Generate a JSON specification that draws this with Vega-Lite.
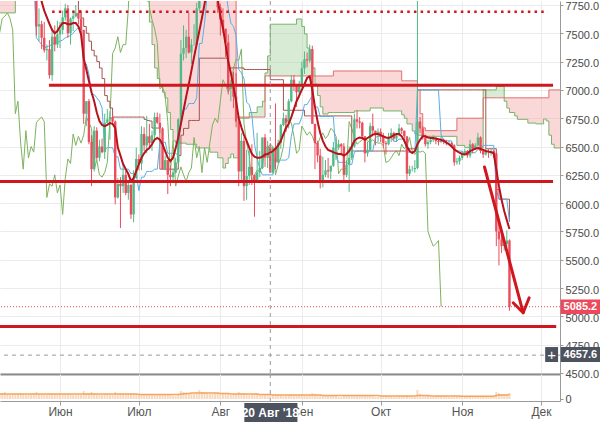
{
"$schema":"https://vega.github.io/schema/vega-lite/v6.json",
"padding":0,
"background":"white",
"spacing":0,
"bounds":"flush",
"config":{"view":{"stroke":null},"axis":{"labelFont":"Liberation Sans","labelOverlap":false},"text":{"font":"Liberation Sans"},"scale":{"continuousPadding":0}},
"datasets":{
"main":[
{"d":"2018-05-09","o":9190,"h":9350,"l":8980,"c":9300,"ma":9100,"tk":8700,"kj":8300,"ch":7500,"v":6,"vm":5},
{"d":"2018-05-10","o":9300,"h":9380,"l":9000,"c":9030,"ma":9050,"tk":8700,"kj":8300,"ch":7630,"v":6,"vm":5},
{"d":"2018-05-11","o":9030,"h":9030,"l":8380,"c":8420,"ma":8950,"tk":8700,"kj":8300,"ch":7650,"v":7,"vm":5},
{"d":"2018-05-12","o":8420,"h":8670,"l":8220,"c":8480,"ma":8850,"tk":8650,"kj":8300,"ch":7680,"v":5,"vm":5},
{"d":"2018-05-13","o":8480,"h":8750,"l":8400,"c":8700,"ma":8800,"tk":8600,"kj":8300,"ch":7630,"v":4,"vm":5},
{"d":"2018-05-14","o":8700,"h":8860,"l":8330,"c":8680,"ma":8750,"tk":8600,"kj":8300,"ch":7530,"v":5,"vm":5},
{"d":"2018-05-15","o":8680,"h":8800,"l":8440,"c":8480,"ma":8700,"tk":8600,"kj":8300,"ch":6790,"v":5,"vm":5},
{"d":"2018-05-16","o":8480,"h":8500,"l":8140,"c":8340,"ma":8600,"tk":8600,"kj":8300,"ch":6900,"v":5,"vm":5},
{"d":"2018-05-17","o":8340,"h":8470,"l":8030,"c":8060,"ma":8500,"tk":8550,"kj":8300,"ch":6540,"v":6,"vm":5},
{"d":"2018-05-18","o":8060,"h":8250,"l":7950,"c":8240,"ma":8450,"tk":8500,"kj":8300,"ch":6300,"v":5,"vm":5},
{"d":"2018-05-19","o":8240,"h":8380,"l":8150,"c":8250,"ma":8400,"tk":8400,"kj":8300,"ch":6640,"v":4,"vm":5},
{"d":"2018-05-20","o":8250,"h":8580,"l":8200,"c":8520,"ma":8400,"tk":8300,"kj":8300,"ch":6400,"v":4,"vm":5},
{"d":"2018-05-21","o":8520,"h":8560,"l":8330,"c":8400,"ma":8350,"tk":8200,"kj":8300,"ch":6500,"v":5,"vm":5},
{"d":"2018-05-22","o":8400,"h":8420,"l":7970,"c":8000,"ma":8200,"tk":8000,"kj":8300,"ch":6450,"v":6,"vm":5},
{"d":"2018-05-23","o":8000,"h":8030,"l":7480,"c":7560,"ma":8050,"tk":7460,"kj":8300,"ch":6710,"v":7,"vm":5},
{"d":"2018-05-24","o":7560,"h":7720,"l":7430,"c":7580,"ma":7900,"tk":7430,"kj":8300,"ch":6740,"v":5,"vm":5},
{"d":"2018-05-25","o":7580,"h":7610,"l":7360,"c":7460,"ma":7780,"tk":7400,"kj":8300,"ch":6760,"v":5,"vm":5},
{"d":"2018-05-26","o":7460,"h":7600,"l":7330,"c":7350,"ma":7700,"tk":7370,"kj":8300,"ch":6720,"v":4,"vm":5},
{"d":"2018-05-27","o":7350,"h":7400,"l":7260,"c":7360,"ma":7640,"tk":7380,"kj":8300,"ch":6050,"v":4,"vm":5},
{"d":"2018-05-28","o":7360,"h":7440,"l":7100,"c":7130,"ma":7582,"tk":7390,"kj":8300,"ch":6170,"v":6,"vm":5},
{"d":"2018-05-29","o":7130,"h":7530,"l":7080,"c":7470,"ma":7530,"tk":7400,"kj":8300,"ch":6150,"v":6,"vm":5},
{"d":"2018-05-30","o":7470,"h":7570,"l":7340,"c":7400,"ma":7500,"tk":7415,"kj":8300,"ch":6250,"v":5,"vm":5},
{"d":"2018-05-31","o":7400,"h":7610,"l":7370,"c":7490,"ma":7520,"tk":7420,"kj":8300,"ch":6090,"v":5,"vm":5},
{"d":"2018-06-01","o":7490,"h":7600,"l":7370,"c":7530,"ma":7560,"tk":7430,"kj":8300,"ch":6160,"v":5,"vm":5},
{"d":"2018-06-02","o":7530,"h":7700,"l":7490,"c":7640,"ma":7590,"tk":7440,"kj":8300,"ch":5900,"v":5,"vm":5},
{"d":"2018-06-03","o":7640,"h":7760,"l":7610,"c":7720,"ma":7590,"tk":7460,"kj":8300,"ch":6220,"v":5,"vm":5},
{"d":"2018-06-04","o":7720,"h":7750,"l":7460,"c":7500,"ma":7580,"tk":7470,"kj":8300,"ch":6390,"v":5,"vm":5},
{"d":"2018-06-05","o":7500,"h":7640,"l":7400,"c":7630,"ma":7580,"tk":7480,"kj":8300,"ch":6350,"v":5,"vm":5},
{"d":"2018-06-06","o":7630,"h":7700,"l":7520,"c":7650,"ma":7590,"tk":7500,"kj":8300,"ch":6610,"v":4,"vm":5},
{"d":"2018-06-07","o":7650,"h":7750,"l":7640,"c":7680,"ma":7590,"tk":7530,"kj":7800,"ch":6510,"v":4,"vm":5},
{"d":"2018-06-08","o":7680,"h":7700,"l":7580,"c":7630,"ma":7560,"tk":7550,"kj":7700,"ch":6590,"v":4,"vm":5},
{"d":"2018-06-09","o":7630,"h":7680,"l":7490,"c":7530,"ma":7490,"tk":7550,"kj":7635,"ch":6530,"v":4,"vm":5},
{"d":"2018-06-10","o":7530,"h":7530,"l":6700,"c":6790,"ma":7280,"tk":7230,"kj":7560,"ch":6600,"v":8,"vm":5},
{"d":"2018-06-11","o":6790,"h":6900,"l":6680,"c":6900,"ma":7180,"tk":7230,"kj":7500,"ch":6760,"v":6,"vm":5},
{"d":"2018-06-12","o":6900,"h":6920,"l":6520,"c":6540,"ma":7079,"tk":7140,"kj":7430,"ch":6710,"v":6,"vm":5},
{"d":"2018-06-13","o":6540,"h":6600,"l":6150,"c":6300,"ma":6980,"tk":6960,"kj":7350,"ch":6660,"v":7,"vm":5},
{"d":"2018-06-14","o":6300,"h":6680,"l":6280,"c":6640,"ma":6900,"tk":6960,"kj":7300,"ch":6300,"v":6,"vm":5},
{"d":"2018-06-15","o":6640,"h":6670,"l":6380,"c":6400,"ma":6800,"tk":6930,"kj":7250,"ch":6380,"v":5,"vm":5},
{"d":"2018-06-16","o":6400,"h":6560,"l":6370,"c":6500,"ma":6725,"tk":6900,"kj":7193,"ch":6250,"v":4,"vm":5},
{"d":"2018-06-17","o":6500,"h":6570,"l":6440,"c":6450,"ma":6690,"tk":6840,"kj":7100,"ch":6230,"v":4,"vm":5},
{"d":"2018-06-18","o":6450,"h":6790,"l":6390,"c":6710,"ma":6680,"tk":6470,"kj":6950,"ch":6270,"v":5,"vm":5},
{"d":"2018-06-19","o":6710,"h":6830,"l":6690,"c":6740,"ma":6690,"tk":6490,"kj":6900,"ch":6360,"v":5,"vm":5},
{"d":"2018-06-20","o":6740,"h":6810,"l":6560,"c":6760,"ma":6707,"tk":6490,"kj":6840,"ch":6740,"v":4,"vm":5},
{"d":"2018-06-21","o":6760,"h":6790,"l":6690,"c":6720,"ma":6700,"tk":6490,"kj":6760,"ch":7320,"v":4,"vm":5},
{"d":"2018-06-22","o":6720,"h":6730,"l":5990,"c":6050,"ma":6665,"tk":6410,"kj":6760,"ch":7370,"v":7,"vm":5},
{"d":"2018-06-23","o":6050,"h":6220,"l":6040,"c":6170,"ma":6490,"tk":6410,"kj":6760,"ch":7470,"v":5,"vm":5},
{"d":"2018-06-24","o":6170,"h":6230,"l":5780,"c":6150,"ma":6420,"tk":6300,"kj":6760,"ch":7330,"v":6,"vm":5},
{"d":"2018-06-25","o":6150,"h":6340,"l":6090,"c":6250,"ma":6345,"tk":6300,"kj":6760,"ch":7400,"v":5,"vm":5},
{"d":"2018-06-26","o":6250,"h":6290,"l":6070,"c":6090,"ma":6300,"tk":6300,"kj":6760,"ch":7400,"v":5,"vm":5},
{"d":"2018-06-27","o":6090,"h":6190,"l":6030,"c":6160,"ma":6257,"tk":6300,"kj":6760,"ch":7720,"v":5,"vm":5},
{"d":"2018-06-28","o":6160,"h":6170,"l":5860,"c":5900,"ma":6195,"tk":6260,"kj":6760,"ch":8400,"v":6,"vm":5},
{"d":"2018-06-29","o":5900,"h":6290,"l":5830,"c":6220,"ma":6220,"tk":6260,"kj":6760,"ch":8170,"v":6,"vm":5},
{"d":"2018-06-30","o":6220,"h":6490,"l":6220,"c":6390,"ma":6283,"tk":6260,"kj":6760,"ch":7940,"v":5,"vm":5},
{"d":"2018-07-01","o":6390,"h":6430,"l":6290,"c":6350,"ma":6345,"tk":6110,"kj":6760,"ch":8190,"v":4,"vm":4.5},
{"d":"2018-07-02","o":6350,"h":6680,"l":6290,"c":6610,"ma":6400,"tk":6230,"kj":6760,"ch":8230,"v":5,"vm":4.5},
{"d":"2018-07-03","o":6610,"h":6670,"l":6460,"c":6510,"ma":6440,"tk":6230,"kj":6740,"ch":8220,"v":5,"vm":4.5},
{"d":"2018-07-04","o":6510,"h":6770,"l":6440,"c":6590,"ma":6470,"tk":6280,"kj":6730,"ch":8180,"v":5,"vm":4.5},
{"d":"2018-07-05","o":6590,"h":6700,"l":6480,"c":6530,"ma":6487,"tk":6280,"kj":6725,"ch":7730,"v":4,"vm":4.5},
{"d":"2018-07-06","o":6530,"h":6640,"l":6460,"c":6600,"ma":6520,"tk":6280,"kj":6663,"ch":7620,"v":4,"vm":4.5},
{"d":"2018-07-07","o":6600,"h":6800,"l":6550,"c":6760,"ma":6560,"tk":6300,"kj":6663,"ch":7540,"v":4,"vm":4.5},
{"d":"2018-07-08","o":6760,"h":6800,"l":6700,"c":6710,"ma":6575,"tk":6300,"kj":6663,"ch":7420,"v":4,"vm":4.5},
{"d":"2018-07-09","o":6710,"h":6790,"l":6620,"c":6660,"ma":6560,"tk":6530,"kj":6300,"ch":7010,"v":4,"vm":4.5},
{"d":"2018-07-10","o":6660,"h":6670,"l":6300,"c":6300,"ma":6520,"tk":6530,"kj":6300,"ch":7030,"v":5,"vm":4.5},
{"d":"2018-07-11","o":6300,"h":6420,"l":6290,"c":6380,"ma":6460,"tk":6540,"kj":6300,"ch":6940,"v":4,"vm":4.5},
{"d":"2018-07-12","o":6380,"h":6380,"l":6080,"c":6250,"ma":6400,"tk":6440,"kj":6300,"ch":6720,"v":5,"vm":4.5},
{"d":"2018-07-13","o":6250,"h":6330,"l":6150,"c":6230,"ma":6370,"tk":6440,"kj":6300,"ch":6280,"v":4,"vm":4.5},
{"d":"2018-07-14","o":6230,"h":6300,"l":6200,"c":6270,"ma":6400,"tk":6440,"kj":6300,"ch":6550,"v":3,"vm":4.5},
{"d":"2018-07-15","o":6270,"h":6400,"l":6260,"c":6360,"ma":6487,"tk":6440,"kj":6300,"ch":6150,"v":3,"vm":4.5},
{"d":"2018-07-16","o":6360,"h":6750,"l":6350,"c":6740,"ma":6580,"tk":6420,"kj":6420,"ch":6240,"v":5,"vm":4.5},
{"d":"2018-07-17","o":6740,"h":7440,"l":6690,"c":7320,"ma":6700,"tk":6760,"kj":6600,"ch":6320,"v":8,"vm":5},
{"d":"2018-07-18","o":7320,"h":7570,"l":7260,"c":7370,"ma":6820,"tk":6830,"kj":6660,"ch":6250,"v":7,"vm":5},
{"d":"2018-07-19","o":7370,"h":7530,"l":7280,"c":7470,"ma":6940,"tk":6830,"kj":6660,"ch":6190,"v":6,"vm":5.5},
{"d":"2018-07-20","o":7470,"h":7680,"l":7320,"c":7330,"ma":7050,"tk":6880,"kj":6730,"ch":6270,"v":6,"vm":5.5},
{"d":"2018-07-21","o":7330,"h":7450,"l":7230,"c":7400,"ma":7170,"tk":6880,"kj":6730,"ch":6310,"v":5,"vm":6},
{"d":"2018-07-22","o":7400,"h":7580,"l":7390,"c":7400,"ma":7290,"tk":6880,"kj":6730,"ch":6580,"v":5,"vm":6},
{"d":"2018-07-23","o":7400,"h":7770,"l":7400,"c":7720,"ma":7405,"tk":6930,"kj":6730,"ch":6400,"v":6,"vm":6},
{"d":"2018-07-24","o":7720,"h":8480,"l":7700,"c":8400,"ma":7520,"tk":7410,"kj":7280,"ch":6500,"v":9,"vm":6},
{"d":"2018-07-25","o":8400,"h":8480,"l":8060,"c":8170,"ma":7635,"tk":7410,"kj":7280,"ch":6270,"v":7,"vm":6},
{"d":"2018-07-26","o":8170,"h":8310,"l":7860,"c":7940,"ma":7760,"tk":7590,"kj":7280,"ch":6490,"v":7,"vm":6},
{"d":"2018-07-27","o":7940,"h":8260,"l":7810,"c":8190,"ma":7880,"tk":7850,"kj":7280,"ch":6360,"v":6,"vm":6},
{"d":"2018-07-28","o":8190,"h":8230,"l":8080,"c":8230,"ma":7950,"tk":7850,"kj":7280,"ch":6530,"v":5,"vm":6},
{"d":"2018-07-29","o":8230,"h":8290,"l":8130,"c":8220,"ma":8000,"tk":7850,"kj":7280,"ch":6690,"v":5,"vm":6},
{"d":"2018-07-30","o":8220,"h":8250,"l":7870,"c":8180,"ma":7950,"tk":7850,"kj":7280,"ch":6750,"v":6,"vm":6},
{"d":"2018-07-31","o":8180,"h":8180,"l":7680,"c":7730,"ma":7800,"tk":7850,"kj":7280,"ch":6710,"v":6,"vm":6},
{"d":"2018-08-01","o":7730,"h":7760,"l":7480,"c":7620,"ma":7650,"tk":7850,"kj":7280,"ch":6900,"v":5,"vm":5.5},
{"d":"2018-08-02","o":7620,"h":7720,"l":7500,"c":7540,"ma":7547,"tk":7980,"kj":7280,"ch":7090,"v":5,"vm":5.5},
{"d":"2018-08-03","o":7540,"h":7540,"l":7290,"c":7420,"ma":7400,"tk":7880,"kj":7280,"ch":7040,"v":5,"vm":5.5},
{"d":"2018-08-04","o":7420,"h":7490,"l":6960,"c":7010,"ma":7250,"tk":7720,"kj":7194,"ch":6980,"v":6,"vm":5.5},
{"d":"2018-08-05","o":7010,"h":7090,"l":6900,"c":7030,"ma":7150,"tk":7590,"kj":7194,"ch":7030,"v":4,"vm":5},
{"d":"2018-08-06","o":7030,"h":7160,"l":6840,"c":6940,"ma":7030,"tk":7560,"kj":7194,"ch":7190,"v":5,"vm":5},
{"d":"2018-08-07","o":6940,"h":7150,"l":6670,"c":6720,"ma":6900,"tk":7480,"kj":7194,"ch":7270,"v":5,"vm":5},
{"d":"2018-08-08","o":6720,"h":6720,"l":6150,"c":6280,"ma":6750,"tk":7180,"kj":7194,"ch":7260,"v":7,"vm":5},
{"d":"2018-08-09","o":6280,"h":6620,"l":6200,"c":6550,"ma":6670,"tk":7150,"kj":7194,"ch":7360,"v":6,"vm":5},
{"d":"2018-08-10","o":6550,"h":6580,"l":6020,"c":6150,"ma":6600,"tk":7100,"kj":7180,"ch":6700,"v":6,"vm":5},
{"d":"2018-08-11","o":6150,"h":6470,"l":6030,"c":6240,"ma":6550,"tk":6890,"kj":7180,"ch":6530,"v":5,"vm":5},
{"d":"2018-08-12","o":6240,"h":6460,"l":6160,"c":6320,"ma":6490,"tk":6870,"kj":7180,"ch":6420,"v":4,"vm":5},
{"d":"2018-08-13","o":6320,"h":6520,"l":6160,"c":6250,"ma":6434,"tk":6780,"kj":7180,"ch":6180,"v":5,"vm":5},
{"d":"2018-08-14","o":6250,"h":6250,"l":5880,"c":6190,"ma":6410,"tk":6520,"kj":7180,"ch":6250,"v":6,"vm":5},
{"d":"2018-08-15","o":6190,"h":6620,"l":6180,"c":6270,"ma":6400,"tk":6400,"kj":7180,"ch":6290,"v":6,"vm":5},
{"d":"2018-08-16","o":6270,"h":6460,"l":6230,"c":6310,"ma":6400,"tk":6300,"kj":7180,"ch":6280,"v":5,"vm":4.5},
{"d":"2018-08-17","o":6310,"h":6580,"l":6300,"c":6580,"ma":6410,"tk":6250,"kj":7180,"ch":6330,"v":5,"vm":4.5},
{"d":"2018-08-18","o":6580,"h":6610,"l":6320,"c":6400,"ma":6430,"tk":6250,"kj":7180,"ch":6490,"v":4,"vm":4.5},
{"d":"2018-08-19","o":6400,"h":6550,"l":6310,"c":6500,"ma":6434,"tk":6250,"kj":7180,"ch":6490,"v":4,"vm":4.5},
{"d":"2018-08-20","o":6500,"h":6530,"l":6270,"c":6270,"ma":6445,"tk":6250,"kj":7090,"ch":6520,"v":4,"vm":4.5},
{"d":"2018-08-21","o":6270,"h":6490,"l":6260,"c":6490,"ma":6460,"tk":6250,"kj":7090,"ch":6500,"v":4,"vm":4},
{"d":"2018-08-22","o":6490,"h":6880,"l":6300,"c":6360,"ma":6480,"tk":6380,"kj":7090,"ch":6250,"v":5,"vm":4},
{"d":"2018-08-23","o":6360,"h":6560,"l":6350,"c":6530,"ma":6510,"tk":6380,"kj":7090,"ch":6340,"v":4,"vm":4},
{"d":"2018-08-24","o":6530,"h":6700,"l":6480,"c":6690,"ma":6550,"tk":6380,"kj":7090,"ch":6400,"v":4,"vm":4},
{"d":"2018-08-25","o":6690,"h":6800,"l":6680,"c":6750,"ma":6610,"tk":6380,"kj":6820,"ch":6500,"v":3,"vm":4},
{"d":"2018-08-26","o":6750,"h":6780,"l":6630,"c":6710,"ma":6665,"tk":6380,"kj":6820,"ch":6740,"v":3,"vm":4},
{"d":"2018-08-27","o":6710,"h":6920,"l":6660,"c":6900,"ma":6700,"tk":6400,"kj":6820,"ch":6720,"v":4,"vm":4},
{"d":"2018-08-28","o":6900,"h":7130,"l":6890,"c":7090,"ma":6760,"tk":6590,"kj":6820,"ch":6710,"v":5,"vm":4},
{"d":"2018-08-29","o":7090,"h":7130,"l":6990,"c":7040,"ma":6830,"tk":6700,"kj":6820,"ch":6590,"v":4,"vm":4},
{"d":"2018-08-30","o":7040,"h":7040,"l":6850,"c":6980,"ma":6900,"tk":6700,"kj":6820,"ch":6440,"v":4,"vm":4},
{"d":"2018-08-31","o":6980,"h":7080,"l":6930,"c":7030,"ma":6950,"tk":6700,"kj":6820,"ch":6470,"v":4,"vm":4},
{"d":"2018-09-01","o":7030,"h":7250,"l":7020,"c":7190,"ma":7000,"tk":6760,"kj":6820,"ch":6680,"v":4,"vm":4},
{"d":"2018-09-02","o":7190,"h":7340,"l":7140,"c":7270,"ma":7050,"tk":6870,"kj":6770,"ch":6640,"v":4,"vm":4},
{"d":"2018-09-03","o":7270,"h":7330,"l":7200,"c":7260,"ma":7105,"tk":6870,"kj":6770,"ch":6600,"v":3,"vm":4},
{"d":"2018-09-04","o":7260,"h":7400,"l":7240,"c":7360,"ma":7120,"tk":6910,"kj":6770,"ch":6630,"v":4,"vm":4},
{"d":"2018-09-05","o":7360,"h":7390,"l":6700,"c":6700,"ma":7000,"tk":6950,"kj":6770,"ch":6590,"v":6,"vm":4},
{"d":"2018-09-06","o":6700,"h":6700,"l":6300,"c":6530,"ma":6850,"tk":6850,"kj":6770,"ch":6530,"v":5,"vm":4},
{"d":"2018-09-07","o":6530,"h":6550,"l":6360,"c":6420,"ma":6720,"tk":6850,"kj":6770,"ch":6520,"v":4,"vm":4},
{"d":"2018-09-08","o":6420,"h":6480,"l":6130,"c":6180,"ma":6620,"tk":6765,"kj":6770,"ch":6580,"v":4,"vm":4},
{"d":"2018-09-09","o":6180,"h":6410,"l":6140,"c":6250,"ma":6550,"tk":6765,"kj":6770,"ch":6620,"v":3,"vm":3.5},
{"d":"2018-09-10","o":6250,"h":6380,"l":6230,"c":6290,"ma":6500,"tk":6765,"kj":6770,"ch":6570,"v":3,"vm":3.5},
{"d":"2018-09-11","o":6290,"h":6400,"l":6220,"c":6280,"ma":6470,"tk":6765,"kj":6770,"ch":6600,"v":3,"vm":3.5},
{"d":"2018-09-12","o":6280,"h":6330,"l":6210,"c":6330,"ma":6460,"tk":6765,"kj":6770,"ch":6660,"v":3,"vm":3.5},
{"d":"2018-09-13","o":6330,"h":6540,"l":6320,"c":6490,"ma":6450,"tk":6765,"kj":6770,"ch":6640,"v":3,"vm":3.5},
{"d":"2018-09-14","o":6490,"h":6580,"l":6380,"c":6490,"ma":6440,"tk":6420,"kj":6770,"ch":6590,"v":3,"vm":3.5},
{"d":"2018-09-15","o":6490,"h":6560,"l":6470,"c":6520,"ma":6434,"tk":6360,"kj":6770,"ch":6260,"v":2,"vm":3.5},
{"d":"2018-09-16","o":6520,"h":6530,"l":6420,"c":6500,"ma":6434,"tk":6360,"kj":6770,"ch":6300,"v":2,"vm":3.5},
{"d":"2018-09-17","o":6500,"h":6530,"l":6200,"c":6250,"ma":6420,"tk":6360,"kj":6770,"ch":6300,"v":3,"vm":3.5},
{"d":"2018-09-18","o":6250,"h":6380,"l":6230,"c":6340,"ma":6434,"tk":6360,"kj":6770,"ch":6310,"v":3,"vm":3.5},
{"d":"2018-09-19","o":6340,"h":6500,"l":6100,"c":6400,"ma":6460,"tk":6340,"kj":6770,"ch":6720,"v":3,"vm":3.5},
{"d":"2018-09-20","o":6400,"h":6540,"l":6380,"c":6500,"ma":6500,"tk":6340,"kj":6460,"ch":6660,"v":3,"vm":3.5},
{"d":"2018-09-21","o":6500,"h":6790,"l":6490,"c":6740,"ma":6550,"tk":6450,"kj":6460,"ch":6580,"v":4,"vm":3.5},
{"d":"2018-09-22","o":6740,"h":6820,"l":6660,"c":6720,"ma":6570,"tk":6460,"kj":6460,"ch":6520,"v":3,"vm":3.5},
{"d":"2018-09-23","o":6720,"h":6760,"l":6660,"c":6710,"ma":6580,"tk":6460,"kj":6460,"ch":6540,"v":3,"vm":3.5},
{"d":"2018-09-24","o":6710,"h":6720,"l":6560,"c":6590,"ma":6575,"tk":6460,"kj":6460,"ch":6560,"v":3,"vm":3.5},
{"d":"2018-09-25","o":6590,"h":6590,"l":6360,"c":6440,"ma":6560,"tk":6460,"kj":6460,"ch":6570,"v":3,"vm":3.5},
{"d":"2018-09-26","o":6440,"h":6540,"l":6410,"c":6470,"ma":6575,"tk":6460,"kj":6460,"ch":6550,"v":3,"vm":3.5},
{"d":"2018-09-27","o":6470,"h":6710,"l":6460,"c":6680,"ma":6590,"tk":6460,"kj":6460,"ch":6540,"v":3,"vm":3.5},
{"d":"2018-09-28","o":6680,"h":6790,"l":6590,"c":6640,"ma":6605,"tk":6460,"kj":6460,"ch":6560,"v":3,"vm":3.5},
{"d":"2018-09-29","o":6640,"h":6640,"l":6510,"c":6600,"ma":6610,"tk":6580,"kj":6460,"ch":6540,"v":2,"vm":3.5},
{"d":"2018-09-30","o":6600,"h":6660,"l":6540,"c":6630,"ma":6610,"tk":6590,"kj":6460,"ch":6530,"v":2,"vm":3.5},
{"d":"2018-10-01","o":6630,"h":6660,"l":6540,"c":6590,"ma":6600,"tk":6590,"kj":6460,"ch":6530,"v":3,"vm":3},
{"d":"2018-10-02","o":6590,"h":6620,"l":6490,"c":6530,"ma":6590,"tk":6590,"kj":6460,"ch":6510,"v":3,"vm":3},
{"d":"2018-10-03","o":6530,"h":6550,"l":6430,"c":6520,"ma":6580,"tk":6580,"kj":6460,"ch":6360,"v":3,"vm":3},
{"d":"2018-10-04","o":6520,"h":6620,"l":6510,"c":6580,"ma":6575,"tk":6580,"kj":6460,"ch":6370,"v":3,"vm":3},
{"d":"2018-10-05","o":6580,"h":6660,"l":6540,"c":6620,"ma":6585,"tk":6580,"kj":6460,"ch":6400,"v":3,"vm":3},
{"d":"2018-10-06","o":6620,"h":6630,"l":6550,"c":6570,"ma":6600,"tk":6545,"kj":6460,"ch":6440,"v":2,"vm":3},
{"d":"2018-10-07","o":6570,"h":6620,"l":6540,"c":6600,"ma":6610,"tk":6545,"kj":6460,"ch":6460,"v":2,"vm":3},
{"d":"2018-10-08","o":6600,"h":6700,"l":6590,"c":6660,"ma":6610,"tk":6565,"kj":6460,"ch":6420,"v":3,"vm":3},
{"d":"2018-10-09","o":6660,"h":6670,"l":6610,"c":6640,"ma":6590,"tk":6565,"kj":6460,"ch":6520,"v":3,"vm":3},
{"d":"2018-10-10","o":6640,"h":6640,"l":6530,"c":6590,"ma":6550,"tk":6565,"kj":6460,"ch":6480,"v":3,"vm":3},
{"d":"2018-10-11","o":6590,"h":6590,"l":6200,"c":6260,"ma":6500,"tk":6450,"kj":6480,"ch":6510,"v":4,"vm":3},
{"d":"2018-10-12","o":6260,"h":6330,"l":6240,"c":6300,"ma":6460,"tk":6450,"kj":6480,"ch":6580,"v":3,"vm":3},
{"d":"2018-10-13","o":6300,"h":6330,"l":6280,"c":6300,"ma":6443,"tk":6450,"kj":6480,"ch":6460,"v":2,"vm":3},
{"d":"2018-10-14","o":6300,"h":6380,"l":6270,"c":6310,"ma":6460,"tk":6450,"kj":6480,"ch":6430,"v":2,"vm":3},
{"d":"2018-10-15","o":6310,"h":7800,"l":6300,"c":6720,"ma":6520,"tk":7000,"kj":7000,"ch":6460,"v":9,"vm":3.5},
{"d":"2018-10-16","o":6720,"h":6760,"l":6620,"c":6660,"ma":6560,"tk":7000,"kj":7000,"ch":6450,"v":5,"vm":3.5},
{"d":"2018-10-17","o":6660,"h":6680,"l":6560,"c":6580,"ma":6590,"tk":7000,"kj":7000,"ch":6460,"v":4,"vm":3.5},
{"d":"2018-10-18","o":6580,"h":6600,"l":6500,"c":6520,"ma":6590,"tk":7000,"kj":7000,"ch":6440,"v":3,"vm":3.5},
{"d":"2018-10-19","o":6520,"h":6560,"l":6480,"c":6540,"ma":6580,"tk":7000,"kj":7000,"ch":5750,"v":3,"vm":3.5},
{"d":"2018-10-20","o":6540,"h":6580,"l":6520,"c":6560,"ma":6575,"tk":7000,"kj":7000,"ch":5680,"v":2,"vm":3},
{"d":"2018-10-21","o":6560,"h":6600,"l":6540,"c":6570,"ma":6575,"tk":7000,"kj":7000,"ch":5620,"v":2,"vm":3},
{"d":"2018-10-22","o":6570,"h":6580,"l":6520,"c":6550,"ma":6570,"tk":7000,"kj":7000,"ch":5640,"v":3,"vm":3},
{"d":"2018-10-23","o":6550,"h":6560,"l":6510,"c":6540,"ma":6565,"tk":7000,"kj":7000,"ch":5670,"v":3,"vm":3},
{"d":"2018-10-24","o":6540,"h":6590,"l":6530,"c":6560,"ma":6560,"tk":6600,"kj":7000,"ch":5085,"v":3,"vm":3},
{"d":"2018-10-25","o":6560,"h":6570,"l":6520,"c":6540,"ma":6550,"tk":6555,"kj":7000,"v":3,"vm":3},
{"d":"2018-10-26","o":6540,"h":6560,"l":6510,"c":6530,"ma":6535,"tk":6550,"kj":7000,"v":3,"vm":3},
{"d":"2018-10-27","o":6530,"h":6550,"l":6510,"c":6530,"ma":6520,"tk":6550,"kj":7000,"v":2,"vm":3},
{"d":"2018-10-28","o":6530,"h":6540,"l":6500,"c":6510,"ma":6500,"tk":6550,"kj":7000,"v":2,"vm":3},
{"d":"2018-10-29","o":6510,"h":6520,"l":6330,"c":6360,"ma":6475,"tk":6460,"kj":7000,"v":3,"vm":3},
{"d":"2018-10-30","o":6360,"h":6400,"l":6340,"c":6370,"ma":6460,"tk":6460,"kj":7000,"v":3,"vm":3},
{"d":"2018-10-31","o":6370,"h":6420,"l":6340,"c":6400,"ma":6445,"tk":6460,"kj":7000,"v":3,"vm":3},
{"d":"2018-11-01","o":6400,"h":6460,"l":6380,"c":6440,"ma":6434,"tk":6460,"kj":7000,"v":3,"vm":2.8},
{"d":"2018-11-02","o":6440,"h":6480,"l":6420,"c":6460,"ma":6430,"tk":6430,"kj":7000,"v":3,"vm":2.8},
{"d":"2018-11-03","o":6460,"h":6470,"l":6400,"c":6420,"ma":6440,"tk":6430,"kj":7000,"v":2,"vm":2.8},
{"d":"2018-11-04","o":6420,"h":6560,"l":6400,"c":6520,"ma":6460,"tk":6445,"kj":7000,"v":3,"vm":2.8},
{"d":"2018-11-05","o":6520,"h":6530,"l":6440,"c":6480,"ma":6470,"tk":6445,"kj":7000,"v":3,"vm":2.8},
{"d":"2018-11-06","o":6480,"h":6530,"l":6470,"c":6510,"ma":6480,"tk":6445,"kj":7000,"v":3,"vm":2.8},
{"d":"2018-11-07","o":6510,"h":6620,"l":6500,"c":6580,"ma":6487,"tk":6475,"kj":7000,"v":3,"vm":2.8},
{"d":"2018-11-08","o":6580,"h":6590,"l":6440,"c":6460,"ma":6480,"tk":6480,"kj":7000,"v":3,"vm":2.8},
{"d":"2018-11-09","o":6460,"h":6480,"l":6400,"c":6430,"ma":6470,"tk":6510,"kj":7000,"v":3,"vm":2.8},
{"d":"2018-11-10","o":6430,"h":6480,"l":6420,"c":6460,"ma":6460,"tk":6510,"kj":6480,"v":2,"vm":2.8},
{"d":"2018-11-11","o":6460,"h":6480,"l":6400,"c":6450,"ma":6455,"tk":6510,"kj":6480,"v":2,"vm":2.8},
{"d":"2018-11-12","o":6450,"h":6480,"l":6420,"c":6460,"ma":6450,"tk":6510,"kj":6480,"v":3,"vm":2.8},
{"d":"2018-11-13","o":6460,"h":6470,"l":6400,"c":6440,"ma":6440,"tk":6510,"kj":6480,"v":3,"vm":2.8},
{"d":"2018-11-14","o":6440,"h":6450,"l":5620,"c":5750,"ma":6300,"tk":6120,"kj":6120,"v":7,"vm":3.5},
{"d":"2018-11-15","o":5750,"h":5850,"l":5450,"c":5680,"ma":6150,"tk":6035,"kj":6035,"v":6,"vm":4},
{"d":"2018-11-16","o":5680,"h":5720,"l":5560,"c":5620,"ma":6030,"tk":6035,"kj":6035,"v":5,"vm":4},
{"d":"2018-11-17","o":5620,"h":5660,"l":5580,"c":5640,"ma":5930,"tk":6035,"kj":6035,"v":4,"vm":4},
{"d":"2018-11-18","o":5640,"h":5760,"l":5620,"c":5670,"ma":5850,"tk":6035,"kj":6035,"v":4,"vm":4},
{"d":"2018-11-19","o":5670,"h":5680,"l":5050,"c":5085,"ma":5771,"tk":5835,"kj":5835,"v":6,"vm":4.5}
],
"cloud":[
{"d":"2018-05-09","a":7680,"b":8300,"seg":1,"trend":"bear"},
{"d":"2018-05-15","a":8200,"b":8300,"seg":1,"trend":"bear"},
{"d":"2018-07-04","a":7785,"b":8300,"seg":1,"trend":"bear"},
{"d":"2018-07-05","a":7600,"b":8300,"seg":1,"trend":"bear"},
{"d":"2018-07-06","a":7400,"b":8300,"seg":1,"trend":"bear"},
{"d":"2018-07-07","a":7194,"b":8300,"seg":1,"trend":"bear"},
{"d":"2018-07-08","a":7100,"b":8300,"seg":1,"trend":"bear"},
{"d":"2018-07-09","a":7030,"b":8300,"seg":1,"trend":"bear"},
{"d":"2018-07-10","a":6980,"b":8300,"seg":1,"trend":"bear"},
{"d":"2018-07-11","a":6928,"b":8300,"seg":1,"trend":"bear"},
{"d":"2018-07-12","a":6800,"b":8300,"seg":1,"trend":"bear"},
{"d":"2018-07-13","a":6650,"b":8300,"seg":1,"trend":"bear"},
{"d":"2018-07-14","a":6550,"b":8300,"seg":1,"trend":"bear"},
{"d":"2018-07-15","a":6530,"b":8300,"seg":1,"trend":"bear"},
{"d":"2018-07-19","a":6520,"b":8300,"seg":1,"trend":"bear"},
{"d":"2018-07-23","a":6487,"b":8300,"seg":1,"trend":"bear"},
{"d":"2018-07-28","a":6450,"b":8300,"seg":1,"trend":"bear"},
{"d":"2018-07-31","a":6400,"b":8300,"seg":1,"trend":"bear"},
{"d":"2018-08-02","a":6310,"b":8300,"seg":1,"trend":"bear"},
{"d":"2018-08-03","a":6350,"b":8300,"seg":1,"trend":"bear"},
{"d":"2018-08-04","a":6400,"b":8300,"seg":1,"trend":"bear"},
{"d":"2018-08-05","a":6434,"b":8300,"seg":1,"trend":"bear"},
{"d":"2018-08-06","a":6400,"b":8300,"seg":1,"trend":"bear"},
{"d":"2018-08-07","a":6400,"b":6760,"seg":1,"trend":"bear"},
{"d":"2018-08-08","a":6750,"b":6760,"seg":1,"trend":"bear"},
{"d":"2018-08-12","a":6800,"b":6760,"seg":1,"trend":"bear"},
{"d":"2018-08-12","a":6800,"b":6760,"seg":2,"trend":"bull"},
{"d":"2018-08-15","a":6850,"b":6760,"seg":2,"trend":"bull"},
{"d":"2018-08-17","a":6900,"b":6760,"seg":2,"trend":"bull"},
{"d":"2018-08-18","a":7150,"b":7123,"seg":2,"trend":"bull"},
{"d":"2018-08-19","a":7300,"b":7123,"seg":2,"trend":"bull"},
{"d":"2018-08-20","a":7580,"b":7123,"seg":2,"trend":"bull"},
{"d":"2018-08-30","a":7626,"b":7123,"seg":2,"trend":"bull"},
{"d":"2018-09-01","a":7560,"b":7123,"seg":2,"trend":"bull"},
{"d":"2018-09-02","a":7494,"b":7123,"seg":2,"trend":"bull"},
{"d":"2018-09-03","a":7370,"b":7123,"seg":2,"trend":"bull"},
{"d":"2018-09-04","a":7280,"b":7123,"seg":2,"trend":"bull"},
{"d":"2018-09-05","a":7194,"b":7123,"seg":2,"trend":"bull"},
{"d":"2018-09-06","a":7050,"b":7123,"seg":2,"trend":"bull"},
{"d":"2018-09-06","a":7050,"b":7123,"seg":3,"trend":"bear"},
{"d":"2018-09-07","a":6950,"b":7123,"seg":3,"trend":"bear"},
{"d":"2018-09-08","a":6850,"b":7123,"seg":3,"trend":"bear"},
{"d":"2018-09-09","a":6787,"b":7123,"seg":3,"trend":"bear"},
{"d":"2018-09-11","a":6800,"b":7123,"seg":3,"trend":"bear"},
{"d":"2018-09-13","a":6800,"b":7167,"seg":3,"trend":"bear"},
{"d":"2018-09-21","a":6814,"b":7167,"seg":3,"trend":"bear"},
{"d":"2018-09-27","a":6840,"b":7167,"seg":3,"trend":"bear"},
{"d":"2018-10-02","a":6814,"b":7167,"seg":3,"trend":"bear"},
{"d":"2018-10-09","a":6780,"b":7080,"seg":3,"trend":"bear"},
{"d":"2018-10-10","a":6750,"b":7080,"seg":3,"trend":"bear"},
{"d":"2018-10-11","a":6700,"b":7080,"seg":3,"trend":"bear"},
{"d":"2018-10-13","a":6637,"b":7080,"seg":3,"trend":"bear"},
{"d":"2018-10-14","a":6610,"b":7080,"seg":3,"trend":"bear"},
{"d":"2018-10-15","a":6600,"b":7000,"seg":3,"trend":"bear"},
{"d":"2018-10-16","a":6600,"b":6790,"seg":3,"trend":"bear"},
{"d":"2018-10-17","a":6600,"b":6665,"seg":3,"trend":"bear"},
{"d":"2018-10-18","a":6590,"b":6640,"seg":3,"trend":"bear"},
{"d":"2018-10-30","a":6510,"b":6750,"seg":3,"trend":"bear"},
{"d":"2018-11-02","a":6490,"b":6750,"seg":3,"trend":"bear"},
{"d":"2018-11-09","a":7000,"b":6930,"seg":3,"trend":"bear"},
{"d":"2018-11-09","a":7000,"b":6930,"seg":4,"trend":"bull"},
{"d":"2018-11-14","a":7030,"b":6930,"seg":4,"trend":"bull"},
{"d":"2018-11-17","a":6900,"b":6930,"seg":4,"trend":"bull"},
{"d":"2018-11-17","a":6900,"b":6930,"seg":5,"trend":"bear"},
{"d":"2018-11-18","a":6840,"b":6930,"seg":5,"trend":"bear"},
{"d":"2018-11-19","a":6800,"b":6930,"seg":5,"trend":"bear"},
{"d":"2018-11-21","a":6770,"b":6930,"seg":5,"trend":"bear"},
{"d":"2018-11-22","a":6740,"b":6930,"seg":5,"trend":"bear"},
{"d":"2018-11-26","a":6707,"b":6930,"seg":5,"trend":"bear"},
{"d":"2018-11-29","a":6700,"b":6930,"seg":5,"trend":"bear"},
{"d":"2018-12-02","a":6743,"b":6930,"seg":5,"trend":"bear"},
{"d":"2018-12-03","a":6725,"b":6930,"seg":5,"trend":"bear"},
{"d":"2018-12-04","a":6600,"b":7000,"seg":5,"trend":"bear"},
{"d":"2018-12-05","a":6520,"b":7000,"seg":5,"trend":"bear"},
{"d":"2018-12-06","a":6487,"b":7000,"seg":5,"trend":"bear"},
{"d":"2018-12-09","a":6487,"b":7000,"seg":5,"trend":"bear"}
],
"levels":[
{"p":7040,"from":"2018-05-27T20:00:00Z","to":"2018-12-05T14:00:00Z"},
{"p":6190,"from":"2018-05-09T04:00:00Z","to":"2018-12-05T14:00:00Z"},
{"p":4910,"from":"2018-05-09T04:00:00Z","to":"2018-12-06T19:00:00Z"}
],
"targets":[
{"p":7690,"from":"2018-05-29T00:00:00Z","to":"2018-12-03T16:00:00Z"}
],
"arrow":[
{"part":"shaft","i":1,"d":"2018-11-09T12:00:00Z","p":6319},
{"part":"shaft","i":2,"d":"2018-11-24T05:00:00Z","p":5032},
{"part":"head","i":1,"d":"2018-11-20T10:00:00Z","p":5120},
{"part":"head","i":2,"d":"2018-11-24T05:00:00Z","p":5032},
{"part":"head","i":3,"d":"2018-11-26T12:00:00Z","p":5164}
],
"marks":[{"last":5085.2,"cross":4657.6}]
},
"vconcat":[
{
"width":560,"height":373,
"resolve":{"axis":{"x":"independent","y":"independent"}},
"layer":[
{"data":{"name":"cloud"},"mark":{"type":"area","interpolate":"step-after","clip":true,"opacity":0.45},
 "encoding":{
  "x":{"field":"d","type":"temporal","title":null,"scale":{"type":"utc","padding":0,"domain":[{"year":2018,"month":5,"date":9,"hours":4,"utc":true},{"year":2018,"month":12,"date":8,"hours":5,"minutes":30,"utc":true}]},
   "axis":{"orient":"bottom","values":[{"year":2018,"month":6,"date":1,"utc":true},{"year":2018,"month":7,"date":1,"utc":true},{"year":2018,"month":8,"date":1,"utc":true},{"year":2018,"month":9,"date":1,"utc":true},{"year":2018,"month":10,"date":1,"utc":true},{"year":2018,"month":11,"date":1,"utc":true},{"year":2018,"month":12,"date":1,"utc":true}],"grid":true,"gridColor":"#ebebeb","labels":false,"ticks":false,"domain":true,"domainColor":"#8c8c8c","domainWidth":2}},
  "y":{"field":"a","type":"quantitative","title":null,"scale":{"domain":[4491,7785],"nice":false,"zero":false,"padding":0},
   "axis":{"orient":"right","values":[4500,4750,5000,5250,5500,5750,6000,6250,6500,6750,7000,7250,7500,7750],"format":".1f","grid":true,"gridColor":"#ebebeb","tickSize":3,"tickColor":"#9a9a9a","domainColor":"#9a9a9a","labelColor":"#4a4a4a","labelFontSize":11,"labelPadding":2,"labelBaseline":"middle","labelOffset":2,"labelFlush":false,"labelOverlap":false}},
  "y2":{"field":"b"},
  "color":{"field":"trend","type":"nominal","scale":{"domain":["bear","bull"],"range":["#f4a9a9","#a9d4a2"]},"legend":null},
  "detail":{"field":"seg","type":"nominal"}}},
{"data":{"name":"cloud"},"mark":{"type":"line","interpolate":"step-after","clip":true,"stroke":"#77b36a","strokeWidth":1},
 "encoding":{"x":{"field":"d","type":"temporal","axis":null,"title":null,"scale":{"type":"utc","padding":0,"domain":[{"year":2018,"month":5,"date":9,"hours":4,"utc":true},{"year":2018,"month":12,"date":8,"hours":5,"minutes":30,"utc":true}]}},
  "y":{"field":"a","type":"quantitative","axis":null,"title":null,"scale":{"domain":[4491,7785],"nice":false,"zero":false,"padding":0}}}},
{"data":{"name":"cloud"},"mark":{"type":"line","interpolate":"step-after","clip":true,"stroke":"#e07070","strokeWidth":1},
 "encoding":{"x":{"field":"d","type":"temporal","axis":null,"title":null,"scale":{"type":"utc","padding":0,"domain":[{"year":2018,"month":5,"date":9,"hours":4,"utc":true},{"year":2018,"month":12,"date":8,"hours":5,"minutes":30,"utc":true}]}},
  "y":{"field":"b","type":"quantitative","axis":null,"title":null,"scale":{"domain":[4491,7785],"nice":false,"zero":false,"padding":0}}}},
{"data":{"name":"main"},"mark":{"type":"line","clip":true,"stroke":"#7db35f","strokeWidth":1},
 "encoding":{"x":{"field":"d","type":"temporal","axis":null,"title":null,"scale":{"type":"utc","padding":0,"domain":[{"year":2018,"month":5,"date":9,"hours":4,"utc":true},{"year":2018,"month":12,"date":8,"hours":5,"minutes":30,"utc":true}]}},
  "y":{"field":"ch","type":"quantitative","axis":null,"title":null,"scale":{"domain":[4491,7785],"nice":false,"zero":false,"padding":0}}}},
{"data":{"name":"main"},"mark":{"type":"line","clip":true,"interpolate":"step-after","stroke":"#a4554f","strokeWidth":1},
 "encoding":{"x":{"field":"d","type":"temporal","axis":null,"title":null,"scale":{"type":"utc","padding":0,"domain":[{"year":2018,"month":5,"date":9,"hours":4,"utc":true},{"year":2018,"month":12,"date":8,"hours":5,"minutes":30,"utc":true}]}},
  "y":{"field":"kj","type":"quantitative","axis":null,"title":null,"scale":{"domain":[4491,7785],"nice":false,"zero":false,"padding":0}}}},
{"data":{"name":"main"},"mark":{"type":"line","clip":true,"stroke":"#5aaee8","strokeWidth":1},
 "encoding":{"x":{"field":"d","type":"temporal","axis":null,"title":null,"scale":{"type":"utc","padding":0,"domain":[{"year":2018,"month":5,"date":9,"hours":4,"utc":true},{"year":2018,"month":12,"date":8,"hours":5,"minutes":30,"utc":true}]}},
  "y":{"field":"tk","type":"quantitative","axis":null,"title":null,"scale":{"domain":[4491,7785],"nice":false,"zero":false,"padding":0}}}},
{"data":{"name":"main"},"mark":{"type":"rule","clip":true,"strokeWidth":1},
 "encoding":{"x":{"field":"d","type":"temporal","axis":null,"title":null,"scale":{"type":"utc","padding":0,"domain":[{"year":2018,"month":5,"date":9,"hours":4,"utc":true},{"year":2018,"month":12,"date":8,"hours":5,"minutes":30,"utc":true}]}},
  "y":{"field":"l","type":"quantitative","axis":null,"title":null,"scale":{"domain":[4491,7785],"nice":false,"zero":false,"padding":0}},
  "y2":{"field":"h"},
  "color":{"condition":{"test":"datum.c >= datum.o","value":"#53b987"},"value":"#eb4d5c"}}},
{"data":{"name":"main"},"mark":{"type":"bar","clip":true,"size":2.4},
 "encoding":{"x":{"field":"d","type":"temporal","axis":null,"title":null,"scale":{"type":"utc","padding":0,"domain":[{"year":2018,"month":5,"date":9,"hours":4,"utc":true},{"year":2018,"month":12,"date":8,"hours":5,"minutes":30,"utc":true}]}},
  "y":{"field":"o","type":"quantitative","axis":null,"title":null,"scale":{"domain":[4491,7785],"nice":false,"zero":false,"padding":0}},
  "y2":{"field":"c"},
  "color":{"condition":{"test":"datum.c >= datum.o","value":"#53b987"},"value":"#eb4d5c"}}},
{"data":{"name":"main"},"mark":{"type":"line","clip":true,"stroke":"#b8121b","strokeWidth":2},
 "encoding":{"x":{"field":"d","type":"temporal","axis":null,"title":null,"scale":{"type":"utc","padding":0,"domain":[{"year":2018,"month":5,"date":9,"hours":4,"utc":true},{"year":2018,"month":12,"date":8,"hours":5,"minutes":30,"utc":true}]}},
  "y":{"field":"ma","type":"quantitative","axis":null,"title":null,"scale":{"domain":[4491,7785],"nice":false,"zero":false,"padding":0}}}},
{"data":{"name":"levels"},"mark":{"type":"rule","clip":true,"stroke":"#d0161e","strokeWidth":3},
 "encoding":{"x":{"field":"from","type":"temporal","axis":null,"title":null,"scale":{"type":"utc","padding":0,"domain":[{"year":2018,"month":5,"date":9,"hours":4,"utc":true},{"year":2018,"month":12,"date":8,"hours":5,"minutes":30,"utc":true}]}},
  "x2":{"field":"to"},
  "y":{"field":"p","type":"quantitative","axis":null,"title":null,"scale":{"domain":[4491,7785],"nice":false,"zero":false,"padding":0}}}},
{"data":{"name":"targets"},"mark":{"type":"rule","clip":true,"stroke":"#d0161e","strokeWidth":2.5,"strokeDash":[2.5,4.2]},
 "encoding":{"x":{"field":"from","type":"temporal","axis":null,"title":null,"scale":{"type":"utc","padding":0,"domain":[{"year":2018,"month":5,"date":9,"hours":4,"utc":true},{"year":2018,"month":12,"date":8,"hours":5,"minutes":30,"utc":true}]}},
  "x2":{"field":"to"},
  "y":{"field":"p","type":"quantitative","axis":null,"title":null,"scale":{"domain":[4491,7785],"nice":false,"zero":false,"padding":0}}}},
{"data":{"name":"marks"},"mark":{"type":"rule","clip":true,"stroke":"#e84a5f","strokeWidth":1,"strokeDash":[1,2]},
 "encoding":{"y":{"field":"last","type":"quantitative","axis":null,"title":null,"scale":{"domain":[4491,7785],"nice":false,"zero":false,"padding":0}}}},
{"data":{"name":"marks"},"mark":{"type":"rule","clip":true,"stroke":"#9a9a9a","strokeWidth":1,"strokeDash":[4,4]},
 "encoding":{"y":{"field":"cross","type":"quantitative","axis":null,"title":null,"scale":{"domain":[4491,7785],"nice":false,"zero":false,"padding":0}}}},
{"data":{"name":"marks"},"mark":{"type":"rule","clip":true,"stroke":"#9a9a9a","strokeWidth":1,"strokeDash":[4,4]},
 "encoding":{"x":{"datum":{"year":2018,"month":8,"date":20,"utc":true},"type":"temporal","axis":null,"title":null,"scale":{"type":"utc","padding":0,"domain":[{"year":2018,"month":5,"date":9,"hours":4,"utc":true},{"year":2018,"month":12,"date":8,"hours":5,"minutes":30,"utc":true}]}}}},
{"data":{"name":"arrow"},"mark":{"type":"line","stroke":"#d0161e","strokeWidth":3,"strokeCap":"round","strokeJoin":"round"},
 "encoding":{"x":{"field":"d","type":"temporal","axis":null,"title":null,"scale":{"type":"utc","padding":0,"domain":[{"year":2018,"month":5,"date":9,"hours":4,"utc":true},{"year":2018,"month":12,"date":8,"hours":5,"minutes":30,"utc":true}]}},
  "y":{"field":"p","type":"quantitative","axis":null,"title":null,"scale":{"domain":[4491,7785],"nice":false,"zero":false,"padding":0}},
  "detail":{"field":"part","type":"nominal"},
  "order":{"field":"i","type":"quantitative"}}},
{"data":{"name":"marks"},"mark":{"type":"rect","fill":"#ec4a5c"},
 "encoding":{"x":{"datum":{"year":2018,"month":12,"date":8,"hours":12,"utc":true},"type":"temporal","axis":null,"title":null,"scale":{"type":"utc","padding":0,"domain":[{"year":2018,"month":5,"date":9,"hours":4,"utc":true},{"year":2018,"month":12,"date":8,"hours":5,"minutes":30,"utc":true}]}},
  "x2":{"datum":{"year":2018,"month":12,"date":23,"hours":12,"utc":true}},
  "y":{"datum":5020,"type":"quantitative","axis":null,"title":null,"scale":{"domain":[4491,7785],"nice":false,"zero":false,"padding":0}},
  "y2":{"datum":5150}}},
{"data":{"name":"marks"},"mark":{"type":"text","fill":"white","fontSize":11,"fontWeight":"bold","align":"center","baseline":"middle"},
 "encoding":{"x":{"datum":{"year":2018,"month":12,"date":16,"utc":true},"type":"temporal","axis":null,"title":null,"scale":{"type":"utc","padding":0,"domain":[{"year":2018,"month":5,"date":9,"hours":4,"utc":true},{"year":2018,"month":12,"date":8,"hours":5,"minutes":30,"utc":true}]}},
  "y":{"field":"last","type":"quantitative","axis":null,"title":null,"scale":{"domain":[4491,7785],"nice":false,"zero":false,"padding":0}},
  "text":{"field":"last","type":"quantitative","format":".1f"}}},
{"data":{"name":"marks"},"mark":{"type":"rect","fill":"#4c525e"},
 "encoding":{"x":{"datum":{"year":2018,"month":12,"date":8,"hours":12,"utc":true},"type":"temporal","axis":null,"title":null,"scale":{"type":"utc","padding":0,"domain":[{"year":2018,"month":5,"date":9,"hours":4,"utc":true},{"year":2018,"month":12,"date":8,"hours":5,"minutes":30,"utc":true}]}},
  "x2":{"datum":{"year":2018,"month":12,"date":23,"hours":12,"utc":true}},
  "y":{"datum":4597,"type":"quantitative","axis":null,"title":null,"scale":{"domain":[4491,7785],"nice":false,"zero":false,"padding":0}},
  "y2":{"datum":4729}}},
{"data":{"name":"marks"},"mark":{"type":"text","fill":"white","fontSize":11,"fontWeight":"bold","align":"center","baseline":"middle"},
 "encoding":{"x":{"datum":{"year":2018,"month":12,"date":16,"utc":true},"type":"temporal","axis":null,"title":null,"scale":{"type":"utc","padding":0,"domain":[{"year":2018,"month":5,"date":9,"hours":4,"utc":true},{"year":2018,"month":12,"date":8,"hours":5,"minutes":30,"utc":true}]}},
  "y":{"field":"cross","type":"quantitative","axis":null,"title":null,"scale":{"domain":[4491,7785],"nice":false,"zero":false,"padding":0}},
  "text":{"field":"cross","type":"quantitative","format":".1f"}}},
{"data":{"name":"marks"},"mark":{"type":"rect","fill":"#4c525e"},
 "encoding":{"x":{"datum":{"year":2018,"month":12,"date":2,"hours":14,"utc":true},"type":"temporal","axis":null,"title":null,"scale":{"type":"utc","padding":0,"domain":[{"year":2018,"month":5,"date":9,"hours":4,"utc":true},{"year":2018,"month":12,"date":8,"hours":5,"minutes":30,"utc":true}]}},
  "x2":{"datum":{"year":2018,"month":12,"date":7,"hours":12,"utc":true}},
  "y":{"datum":4597,"type":"quantitative","axis":null,"title":null,"scale":{"domain":[4491,7785],"nice":false,"zero":false,"padding":0}},
  "y2":{"datum":4729}}},
{"data":{"name":"marks"},"mark":{"type":"text","fill":"white","fontSize":15,"align":"center","baseline":"middle","text":"+"},
 "encoding":{"x":{"datum":{"year":2018,"month":12,"date":5,"hours":1,"utc":true},"type":"temporal","axis":null,"title":null,"scale":{"type":"utc","padding":0,"domain":[{"year":2018,"month":5,"date":9,"hours":4,"utc":true},{"year":2018,"month":12,"date":8,"hours":5,"minutes":30,"utc":true}]}},
  "y":{"field":"cross","type":"quantitative","axis":null,"title":null,"scale":{"domain":[4491,7785],"nice":false,"zero":false,"padding":0}}}}
]
},
{
"width":560,"height":27,
"resolve":{"axis":{"x":"independent","y":"independent"}},
"layer":[
{"data":{"name":"main"},"mark":{"type":"bar","clip":true,"size":2,"fill":"#f8d9bf"},
 "encoding":{
  "x":{"field":"d","type":"temporal","title":null,"scale":{"type":"utc","padding":0,"domain":[{"year":2018,"month":5,"date":9,"hours":4,"utc":true},{"year":2018,"month":12,"date":8,"hours":5,"minutes":30,"utc":true}]},
   "axis":{"orient":"bottom","values":[{"year":2018,"month":6,"date":1,"utc":true},{"year":2018,"month":7,"date":1,"utc":true},{"year":2018,"month":8,"date":1,"utc":true},{"year":2018,"month":9,"date":1,"utc":true},{"year":2018,"month":10,"date":1,"utc":true},{"year":2018,"month":11,"date":1,"utc":true},{"year":2018,"month":12,"date":1,"utc":true}],
    "labelExpr":"['Янв','Фев','Мар','Апр','Май','Июн','Июл','Авг','Сен','Окт','Ноя','Дек'][utcmonth(datum.value)]",
    "grid":true,"gridColor":"#ebebeb","ticks":true,"tickSize":4,"tickColor":"#9a9a9a","domain":true,"domainColor":"#9a9a9a","labelColor":"#555555","labelFontSize":12,"labelPadding":1,"labelFlush":false,"labelOverlap":false}},
  "y":{"field":"v","type":"quantitative","title":null,"scale":{"domain":[-2,25],"nice":false,"zero":false,"padding":0},
   "axis":{"orient":"right","values":[0],"format":"d","grid":false,"tickSize":3,"tickColor":"#9a9a9a","domainColor":"#9a9a9a","labelColor":"#4a4a4a","labelFontSize":11,"labelPadding":2,"labelBaseline":"middle"}},
  "y2":{"datum":0}}},
{"data":{"name":"main"},"mark":{"type":"line","clip":true,"stroke":"#f4a45c","strokeWidth":1.5},
 "encoding":{"x":{"field":"d","type":"temporal","axis":null,"title":null,"scale":{"type":"utc","padding":0,"domain":[{"year":2018,"month":5,"date":9,"hours":4,"utc":true},{"year":2018,"month":12,"date":8,"hours":5,"minutes":30,"utc":true}]}},
  "y":{"field":"vm","type":"quantitative","axis":null,"title":null,"scale":{"domain":[-2,25],"nice":false,"zero":false,"padding":0}}}},
{"data":{"name":"marks"},"mark":{"type":"rule","clip":true,"stroke":"#9a9a9a","strokeWidth":1,"strokeDash":[4,4]},
 "encoding":{"x":{"datum":{"year":2018,"month":8,"date":20,"utc":true},"type":"temporal","axis":null,"title":null,"scale":{"type":"utc","padding":0,"domain":[{"year":2018,"month":5,"date":9,"hours":4,"utc":true},{"year":2018,"month":12,"date":8,"hours":5,"minutes":30,"utc":true}]}}}},
{"data":{"name":"marks"},"mark":{"type":"rect","fill":"#4c525e"},
 "encoding":{"x":{"datum":{"year":2018,"month":8,"date":10,"hours":3,"utc":true},"type":"temporal","axis":null,"title":null,"scale":{"type":"utc","padding":0,"domain":[{"year":2018,"month":5,"date":9,"hours":4,"utc":true},{"year":2018,"month":12,"date":8,"hours":5,"minutes":30,"utc":true}]}},
  "x2":{"datum":{"year":2018,"month":8,"date":30,"hours":8,"utc":true}},
  "y":{"datum":-4,"type":"quantitative","axis":null,"title":null,"scale":{"domain":[-2,25],"nice":false,"zero":false,"padding":0}},
  "y2":{"datum":-23}}},
{"data":{"name":"marks"},"mark":{"type":"text","fill":"white","fontSize":12,"fontWeight":"bold","align":"center","baseline":"middle","text":"20 Авг '18"},
 "encoding":{"x":{"datum":{"year":2018,"month":8,"date":20,"utc":true},"type":"temporal","axis":null,"title":null,"scale":{"type":"utc","padding":0,"domain":[{"year":2018,"month":5,"date":9,"hours":4,"utc":true},{"year":2018,"month":12,"date":8,"hours":5,"minutes":30,"utc":true}]}},
  "y":{"datum":-13.5,"type":"quantitative","axis":null,"title":null,"scale":{"domain":[-2,25],"nice":false,"zero":false,"padding":0}}}}
]
}
]
}
